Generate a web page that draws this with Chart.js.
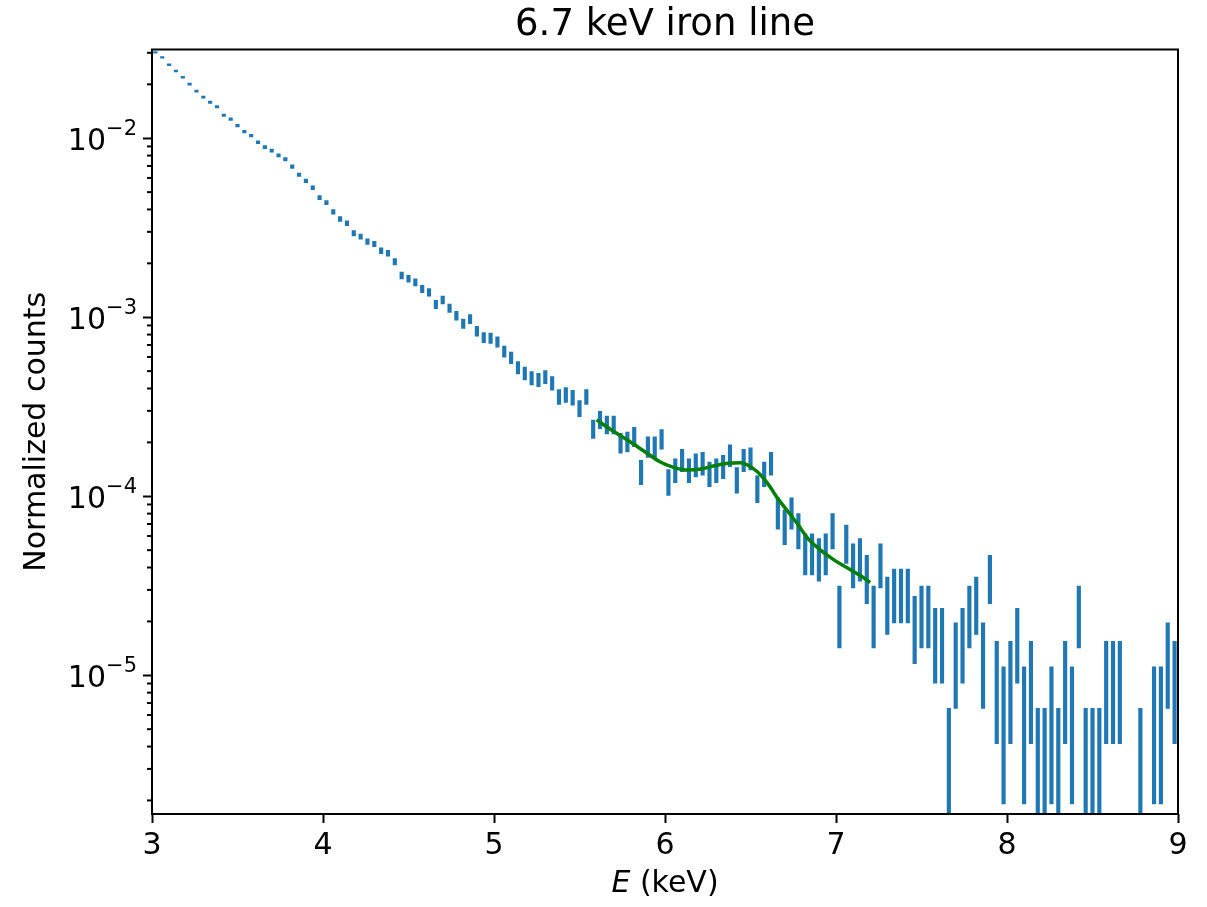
<!DOCTYPE html>
<html lang="en">
<head>
  <meta charset="UTF-8" />
  <title>6.7 keV iron line</title>
  <script src="https://cdn.jsdelivr.net/npm/chart.js@4"></script>
  <style>
    body { margin: 0; background: #fff; }
    #wrap { width: 1207px; height: 907px; }
  </style>
</head>
<body>
  <div id="wrap"><canvas id="spec" width="1207" height="907"></canvas></div>

  <script>
    // bin centres (keV)
    const energies = [
      3.02, 3.06, 3.10, 3.14, 3.18, 3.22, 3.26, 3.30, 3.34, 3.38,
      3.42, 3.46, 3.50, 3.54, 3.58, 3.62, 3.66, 3.70, 3.74, 3.78,
      3.82, 3.86, 3.90, 3.94, 3.98, 4.02, 4.06, 4.10, 4.14, 4.18,
      4.22, 4.26, 4.30, 4.34, 4.38, 4.42, 4.46, 4.50, 4.54, 4.58,
      4.62, 4.66, 4.70, 4.74, 4.78, 4.82, 4.86, 4.90, 4.94, 4.98,
      5.02, 5.06, 5.10, 5.14, 5.18, 5.22, 5.26, 5.30, 5.34, 5.38,
      5.42, 5.46, 5.50, 5.54, 5.58, 5.62, 5.66, 5.70, 5.74, 5.78,
      5.82, 5.86, 5.90, 5.94, 5.98, 6.02, 6.06, 6.10, 6.14, 6.18,
      6.22, 6.26, 6.30, 6.34, 6.38, 6.42, 6.46, 6.50, 6.54, 6.58,
      6.62, 6.66, 6.70, 6.74, 6.78, 6.82, 6.86, 6.90, 6.94, 6.98,
      7.02, 7.06, 7.10, 7.14, 7.18, 7.22, 7.26, 7.30, 7.34, 7.38,
      7.42, 7.46, 7.50, 7.54, 7.58, 7.62, 7.66, 7.70, 7.74, 7.78,
      7.82, 7.86, 7.90, 7.94, 7.98, 8.02, 8.06, 8.10, 8.14, 8.18,
      8.22, 8.26, 8.30, 8.34, 8.38, 8.42, 8.46, 8.50, 8.54, 8.58,
      8.62, 8.66, 8.70, 8.74, 8.78, 8.82, 8.86, 8.90, 8.94, 8.98
    ];

    // counts in each bin
    const counts = [
      9222, 8647, 7873, 7269, 6705, 6135, 5598, 5183, 4860, 4586,
      4111, 3910, 3592, 3330, 3162, 2905, 2728, 2608, 2452, 2335,
      2123, 1912, 1766, 1618, 1424, 1336, 1185, 1083, 1025, 901,
      863, 809, 785, 720, 697, 625, 524, 502, 479, 440,
      421, 361, 382, 344, 312, 282, 299, 256, 236, 234,
      223, 197, 182, 160, 149, 140, 137, 142, 131, 110,
      113, 109, 95, 110, 73, 82, 77, 77, 61, 62,
      66, 42, 58, 58, 64, 37, 43, 49, 43, 46,
      47, 41, 43, 45, 52, 38, 49, 50, 34, 41,
      47, 25, 21, 25, 20, 15, 15, 14, 15, 20,
      7, 17, 13, 14, 11, 7, 13, 8, 9, 9,
      9, 6, 7, 7, 5, 5, 1, 4, 5, 7,
      8, 4, 11, 3, 2, 3, 5, 2, 3, 1,
      1, 2, 1, 3, 2, 7, 1, 1, 1, 3,
      3, 3, 0, 0, 1, 0, 2, 2, 4, 3
    ];

    // normalized counts for a single count
    const countNorm = 3.27e-6;

    // fitted model (green curve)
    const modelE = [5.60, 5.68, 5.78, 5.88, 5.97, 6.05, 6.13, 6.21, 6.29, 6.37, 6.44, 6.48,
                    6.54, 6.60, 6.66, 6.72, 6.78, 6.83, 6.91, 6.99, 7.07, 7.15, 7.20];
    const modelY = [2.67e-4, 2.37e-4, 2.06e-4, 1.78e-4, 1.56e-4, 1.45e-4, 1.40e-4, 1.42e-4,
                    1.48e-4, 1.53e-4, 1.54e-4, 1.50e-4, 1.37e-4, 1.18e-4, 9.7e-5, 8.2e-5,
                    6.9e-5, 5.9e-5, 5.0e-5, 4.4e-5, 3.96e-5, 3.56e-5, 3.3e-5];

    // axes
    const xTicks = [3, 4, 5, 6, 7, 8, 9];
    const yMin = 1.68e-6, yMax = 3.13e-2;
    const yMajorTicks = [1e-5, 1e-4, 1e-3, 1e-2];
    const yMajorExp = ['\u22125', '\u22124', '\u22123', '\u22122'];
    const yDecades = [1e-6, 1e-5, 1e-4, 1e-3, 1e-2];
    const yMinorMult = [1, 2, 3, 4, 5, 6, 7, 8, 9];
    const xLabel = ['E', ' (keV)'];
    const yLabel = 'Normalized counts';
    const title = '6.7 keV iron line';

    Chart.defaults.font.family = '"DejaVu Sans", sans-serif';
    Chart.defaults.color = '#000';

    // error bars: value +/- sqrt(n); a zero lower end falls below the log axis
    const errBars = [];
    energies.forEach((e, i) => {
      const n = counts[i];
      if (n === 0) return;
      const v = n * countNorm, err = Math.sqrt(n) * countNorm;
      const lo = v - err > 0 ? v - err : yMin / 10;
      errBars.push({ x: e, y: [lo, v + err] });
    });

    const yTickVals = [];
    yDecades.forEach(d => yMinorMult.forEach(m => {
      const v = m * d;
      if (v >= yMin && v <= yMax) yTickVals.push(v);
    }));
    const isMajor = v => yMajorTicks.some(t => Math.abs(t - v) / t < 1e-9);

    // extra drawing: minor ticks, frame, 10^n labels, italic x label
    const axisDecor = {
      id: 'axisDecor',
      afterDraw(chart) {
        const { ctx, chartArea: a, scales: { y } } = chart;
        ctx.save();
        ctx.strokeStyle = '#000';
        ctx.lineWidth = 2;
        yTickVals.forEach(v => {
          if (isMajor(v)) return;
          const py = y.getPixelForValue(v);
          ctx.beginPath();
          ctx.moveTo(a.left - 5, py);
          ctx.lineTo(a.left, py);
          ctx.stroke();
        });
        ctx.strokeRect(a.left, a.top, a.right - a.left, a.bottom - a.top);

        ctx.fillStyle = '#000';
        ctx.textBaseline = 'alphabetic';
        ctx.textAlign = 'right';
        const rx = a.left - 15;
        yMajorTicks.forEach((v, i) => {
          const py = y.getPixelForValue(v);
          ctx.font = '21px "DejaVu Sans"';
          const supW = ctx.measureText(yMajorExp[i]).width;
          ctx.fillText(yMajorExp[i], rx, py - 3);
          ctx.font = '30px "DejaVu Sans"';
          ctx.fillText('10', rx - supW, py + 12);
        });

        ctx.textAlign = 'left';
        ctx.textBaseline = 'middle';
        ctx.font = 'italic 30px "DejaVu Sans"';
        const wE = ctx.measureText(xLabel[0]).width;
        ctx.font = '30px "DejaVu Sans"';
        const wRest = ctx.measureText(xLabel[1]).width;
        const sx = (a.left + a.right) / 2 - (wE + wRest) / 2;
        ctx.font = 'italic 30px "DejaVu Sans"';
        ctx.fillText(xLabel[0], sx, 884);
        ctx.font = '30px "DejaVu Sans"';
        ctx.fillText(xLabel[1], sx + wE, 884);
        ctx.restore();
      }
    };

    const chart = new Chart(document.getElementById('spec'), {
      type: 'bar',
      data: {
        datasets: [
          {
            type: 'line',
            label: 'model',
            data: modelE.map((e, i) => ({ x: e, y: modelY[i] })),
            borderColor: '#008000',
            borderWidth: 3.5,
            pointRadius: 0,
            cubicInterpolationMode: 'monotone',
            fill: false,
            order: 0
          },
          {
            type: 'bar',
            label: 'data',
            data: errBars,
            backgroundColor: '#1f77b4',
            barThickness: 3.5,
            grouped: false,
            order: 1
          }
        ]
      },
      options: {
        responsive: false,
        animation: false,
        layout: { padding: { left: 0, right: 29, top: 0, bottom: 0 } },
        plugins: {
          legend: { display: false },
          tooltip: { enabled: false },
          title: {
            display: true,
            text: title,
            fullSize: false,
            color: '#000',
            font: { size: 37, weight: 'normal' },
            padding: { top: 3, bottom: 2.1 }
          }
        },
        scales: {
          x: {
            type: 'linear',
            min: 3,
            max: 9,
            offset: false,
            afterBuildTicks: s => { s.ticks = xTicks.map(v => ({ value: v })); },
            afterFit: s => { s.height = 93; },
            grid: { offset: false, drawOnChartArea: false, tickLength: 9, tickWidth: 2, tickColor: '#000' },
            border: { display: false },
            ticks: { color: '#000', font: { size: 30 }, padding: 5, maxRotation: 0, autoSkip: false, callback: v => String(v) }
          },
          y: {
            type: 'logarithmic',
            min: yMin,
            max: yMax,
            afterBuildTicks: s => { s.ticks = yTickVals.map(v => ({ value: v, major: isMajor(v) })); },
            afterFit: s => { s.width = 152; },
            grid: {
              drawOnChartArea: false,
              tickLength: 9,
              tickWidth: 2,
              tickColor: ctx => (ctx.tick && isMajor(ctx.tick.value)) ? '#000' : 'rgba(0,0,0,0)'
            },
            border: { display: false },
            ticks: { display: false },
            title: { display: true, text: yLabel, color: '#000', font: { size: 30 }, padding: { top: 19, bottom: 0 } }
          }
        }
      },
      plugins: [axisDecor]
    });
  </script>
</body>
</html>
